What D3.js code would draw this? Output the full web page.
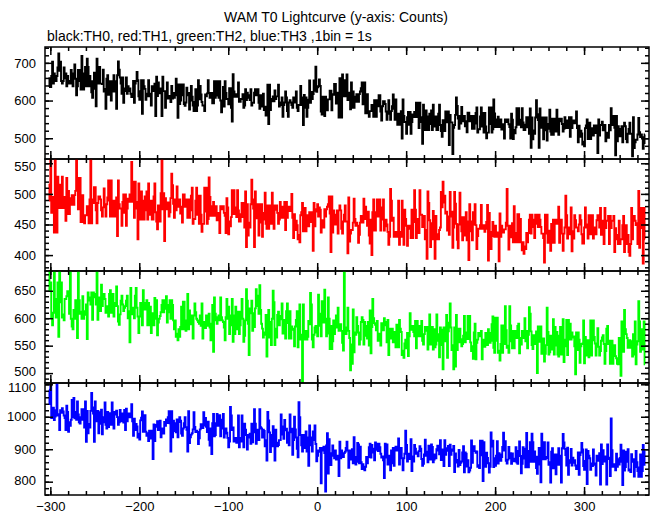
<!DOCTYPE html>
<html><head><meta charset="utf-8">
<script src="https://cdn.jsdelivr.net/npm/d3@7"></script>
<style>body{margin:0;background:#fff}svg{display:block}</style>
</head><body><svg id="c" width="652" height="515"></svg>
<script>
// ---- data ----
const timeStart = -302;   // time of first bin (s)
const binSize = 1;        // 1 bin = 1 s
const th0 = [
636,659,636,665,703,645,672,665,652,665,688,725,679,703,652,645,652,688,659,672,
638,665,652,645,645,681,645,638,672,696,658,614,638,681,681,652,629,718,672,629,
658,689,638,711,689,638,665,651,622,607,651,674,631,585,711,665,645,689,645,645,
644,682,624,631,578,658,667,615,651,638,600,651,624,667,651,624,578,667,704,682,
661,645,618,661,594,625,632,661,618,638,625,632,618,609,609,652,594,645,652,676,
654,611,602,625,654,565,654,638,631,602,618,611,654,611,618,587,638,638,625,645,
559,663,612,648,619,619,632,559,663,625,625,581,625,648,605,605,612,596,639,605,
620,607,620,658,614,554,643,591,600,643,614,643,591,586,595,634,614,620,576,600,
639,610,587,572,596,630,572,587,654,603,639,616,596,587,587,572,616,611,619,654,
620,607,607,620,593,593,651,607,636,651,613,607,651,600,569,600,636,584,651,620,
604,604,590,633,633,581,544,670,624,610,617,617,610,648,597,597,604,604,617,581,
587,630,601,621,607,614,601,630,587,594,594,621,630,614,621,630,594,578,614,607,
584,618,575,584,560,575,642,538,642,575,598,604,611,598,627,604,611,611,642,584,
588,595,608,557,588,595,624,608,572,557,595,601,595,588,581,608,608,595,624,581,
572,588,588,639,588,608,535,615,581,608,557,581,602,653,594,623,604,617,653,626,
690,623,635,638,656,639,571,563,610,610,559,610,590,574,603,603,626,626,574,617,
615,644,644,592,621,601,555,659,601,555,669,638,611,654,611,669,601,621,615,577,
648,581,624,581,610,597,617,604,597,617,624,633,648,590,610,648,566,597,617,566,
557,572,572,588,588,557,601,588,557,601,585,614,614,571,547,585,598,598,591,571,
549,565,601,572,549,572,585,616,578,549,603,559,536,565,536,536,572,499,603,559,
543,543,512,556,570,536,570,512,543,563,556,570,556,594,556,594,527,594,556,543,
485,589,531,522,574,558,522,522,565,538,574,522,589,538,531,558,522,522,565,589,
535,519,504,548,519,519,571,548,542,571,482,562,542,542,458,528,535,562,608,586,
552,525,559,539,583,545,552,559,532,545,516,568,568,545,559,545,525,559,525,539,
567,582,515,524,524,558,582,531,567,515,567,531,500,515,515,582,538,582,515,524,
603,566,530,530,550,557,530,530,550,523,537,537,499,550,543,550,550,537,530,499,
565,549,498,522,513,529,580,536,580,536,549,529,580,542,522,522,536,556,529,556,
512,579,475,555,497,521,512,555,601,564,548,475,579,535,528,555,497,521,555,555,
494,538,525,576,518,509,552,509,552,545,518,576,525,509,552,545,552,538,518,525,
556,527,540,547,527,556,504,556,527,540,547,540,540,571,527,489,533,504,520,513,
483,491,479,527,534,550,498,507,541,498,521,527,507,534,514,527,534,461,550,507,
535,535,544,521,535,535,492,508,515,501,535,521,580,535,544,559,528,455,559,492,
532,505,525,505,532,489,532,541,532,498,489,512,525,541,512,512,452,556,474,489,
496,496,510,554,516,503,510,503,472,487,510];
const th1 = [
489,515,560,469,495,477,437,565,477,437,528,500,477,515,477,528,477,495,489,456,
526,467,505,467,493,482,498,487,482,498,505,560,526,475,493,526,454,482,498,454,
452,465,465,480,480,452,491,558,452,491,485,511,511,473,452,485,496,496,491,473,
463,478,509,483,463,483,494,522,489,463,522,483,463,489,463,463,494,431,522,483,
476,476,448,487,499,469,499,448,476,492,487,499,487,552,487,520,461,520,487,476,
426,517,466,458,504,489,458,458,496,473,504,458,517,473,466,489,458,458,496,517,
470,455,442,481,455,455,501,556,475,501,423,493,475,475,486,463,470,493,533,514,
484,461,491,473,512,479,484,491,468,479,453,499,499,479,491,479,461,491,461,473,
497,510,451,459,459,489,510,466,497,451,497,466,438,451,451,510,471,510,451,459,
527,495,464,464,480,487,464,464,480,457,469,469,436,480,475,480,480,469,464,436,
493,478,434,455,447,462,506,467,506,467,478,462,506,473,455,455,467,485,462,485,
445,504,413,483,432,453,445,483,523,491,476,413,504,465,460,483,432,453,483,483,
430,469,458,502,451,443,481,443,481,474,451,502,458,443,481,474,481,469,451,458,
487,461,472,479,461,487,441,487,461,472,479,472,472,500,461,428,467,441,456,449,
426,433,421,465,470,485,439,447,477,439,459,465,447,470,454,465,470,407,485,447,
475,471,483,463,478,474,437,452,457,445,475,463,475,479,483,496,468,405,496,437,
473,450,466,450,473,435,473,481,473,443,435,455,466,481,455,455,403,494,422,435,
441,441,453,492,459,448,453,448,420,433,453,464,459,453,492,459,479,459,448,471,
432,419,458,400,470,491,440,440,470,491,463,478,491,440,458,478,491,440,447,458,
450,438,417,430,508,489,456,461,430,430,438,430,438,489,417,438,430,489,461,417,
474,459,448,415,443,448,448,428,474,428,454,506,474,428,443,459,436,506,466,466,
446,464,464,426,441,394,504,485,457,413,452,426,472,464,394,464,434,426,426,441,
445,503,478,520,486,497,468,471,440,463,433,503,463,471,412,445,503,484,451,425,
411,450,502,462,439,424,462,439,432,470,424,455,392,483,455,439,424,470,450,483,
449,410,431,443,443,449,482,443,449,449,438,443,454,482,391,469,438,410,431,454,
442,430,448,430,430,437,390,468,430,448,437,437,442,442,453,508,448,409,437,448,
429,452,421,480,436,421,421,467,467,421,459,421,408,421,402,414,410,436,421,436,
458,466,435,466,458,446,428,466,466,451,446,466,458,446,435,435,428,388,466,435,
466,420,440,428,407,451,420,458,420,458,458,451,451,479,420,440,458,435,407,435,
445,497,465,427,445,434,439,478,406,439,427,465,457,445,445,439,450,465,457,434,
419,419,445,478,445,450,427,465,450,434,465,465,427,434,445,434,457,465,457,445,
477,433,456,444,418,477,444,456,456,464,418,464,444,456,456,464,405,444,433,426,
418,456,418,426,426,449,464,405,449,449,418,433,405,399,418,477,426,456,464,456,
449,452,418,505,412,477,444,477,386,477,426];
const th2 = [
686,651,665,601,587,610,690,635,601,610,665,566,700,629,665,601,607,596,635,635,
640,649,640,608,695,599,585,580,615,599,633,633,564,688,633,608,612,599,640,599,
606,613,625,562,647,638,632,625,647,597,647,638,644,625,690,597,625,638,613,661,
622,635,644,635,610,622,610,603,644,651,610,628,644,603,628,622,658,622,594,588,
607,632,641,625,613,619,622,632,641,600,613,556,655,613,607,619,600,641,655,619,
603,573,603,628,609,587,651,621,616,628,633,587,628,587,621,573,596,609,587,637,
599,633,569,592,599,604,611,624,633,611,617,633,640,592,611,624,633,599,633,624,
596,580,596,566,572,560,580,566,584,621,580,630,630,580,577,596,644,580,614,589,
605,593,563,605,627,611,599,596,593,590,605,586,627,563,593,586,582,605,586,599,
608,583,560,590,624,539,638,608,596,590,602,605,596,638,602,596,593,583,560,602,
635,599,621,571,587,605,635,557,605,571,621,580,587,612,571,587,612,635,599,557,
568,596,653,632,590,533,618,609,632,577,609,584,618,653,622,641,608,660,615,590,
581,565,570,574,606,530,606,615,565,593,551,599,650,629,551,581,565,606,612,587,
604,598,627,572,597,579,563,613,627,591,563,613,563,585,581,579,549,585,597,613,
547,595,625,561,570,478,625,570,561,577,561,566,595,589,646,625,561,547,570,583,
586,574,567,643,608,586,567,631,608,592,652,599,567,572,638,599,544,586,544,558,
596,571,583,605,583,619,577,583,589,577,555,541,690,577,571,583,619,577,564,505,
552,517,616,538,574,570,602,586,574,552,561,593,602,597,552,593,568,586,563,593,
550,614,536,584,635,600,591,588,578,595,559,572,566,550,591,584,578,600,593,587,
556,597,533,581,575,563,581,556,575,569,547,588,556,547,597,581,575,533,541,528,
554,561,545,573,531,567,609,579,583,586,575,567,595,545,595,567,586,579,567,595,
559,552,571,584,577,584,543,559,607,552,577,584,543,580,547,552,607,559,571,529,
583,579,551,507,583,558,564,606,528,576,592,627,583,542,551,507,583,512,606,542,
581,556,581,562,549,553,568,604,556,574,562,604,562,604,556,540,549,526,574,590,
525,555,561,573,569,567,577,525,561,558,548,573,555,551,580,573,555,559,589,603,
546,537,601,559,601,537,541,523,553,587,537,587,553,622,578,546,550,537,622,587,
558,545,577,545,564,577,564,586,590,536,564,552,577,570,564,600,558,577,545,570,
620,608,576,551,544,569,557,553,576,500,585,557,563,585,535,540,563,521,535,551,
619,575,534,538,568,543,550,598,534,584,550,575,534,530,568,584,534,543,598,520,
549,561,597,533,597,561,590,561,574,565,567,549,498,574,542,574,561,519,549,553,
554,596,518,566,532,537,560,529,554,596,532,560,596,566,554,532,550,582,548,532,
540,559,565,569,553,517,540,581,586,553,559,517,547,559,517,547,551,531,527,517,
516,564,546,495,594,558,539,615,580,571,564,546,552,560,546,558,530,571,534,594,
516,552,558,631,594,539,580,543,564,594,516];
const th3 = [
1083,1039,1095,996,1020,1028,990,1001,1020,1100,1004,1008,959,1020,1012,1026,1016,1004,996,959,
1034,1015,954,983,972,991,1052,999,1058,995,1015,991,1047,1007,983,979,999,1023,991,1023,
967,1047,923,1018,949,978,967,1018,1073,1029,1010,923,1047,994,986,1018,949,978,1014,1022,
946,999,983,1044,975,964,1015,968,1011,1007,975,1044,983,964,1015,1007,1019,999,975,983,
1021,986,1002,1010,982,1021,959,1025,986,1002,1010,998,1006,1039,986,941,994,959,978,970,
936,948,930,989,997,1016,954,965,1005,954,941,949,925,957,933,949,957,870,976,925,
975,969,986,959,979,988,937,956,964,948,984,972,992,981,999,1017,980,893,1017,937,
988,956,980,952,992,937,984,999,988,948,941,964,980,999,968,960,893,1017,919,937,
945,949,961,1014,969,953,957,953,916,934,961,977,969,965,1014,973,996,969,953,985,
929,911,964,885,980,1009,940,944,980,1009,972,991,1005,940,964,991,1009,936,948,964,
951,935,906,924,1030,1004,959,967,924,928,935,920,935,1004,906,935,924,1004,967,906,
979,960,944,899,936,944,948,917,979,921,952,1023,979,917,936,960,928,1023,968,964,
936,960,956,909,928,865,1015,989,952,891,944,909,971,960,865,960,920,909,913,928,
928,1007,945,970,932,990,958,963,920,952,912,1007,952,963,883,928,1000,961,936,901,
875,1045,999,944,912,893,944,912,904,955,893,936,849,973,936,912,893,955,928,973,
916,863,880,896,892,904,795,896,904,908,888,770,912,949,825,931,888,851,880,912,
888,872,896,868,877,880,817,923,872,896,884,876,888,892,904,923,896,843,880,896,
868,900,857,937,876,853,861,919,915,857,908,860,839,854,842,835,846,876,857,876,
906,917,874,913,902,890,866,921,917,898,894,917,906,886,874,878,866,811,917,874,
915,853,880,864,835,896,857,904,849,904,908,896,900,933,853,880,904,872,835,872,
886,957,913,862,886,870,878,931,833,878,862,913,902,886,890,878,894,909,902,870,
849,855,884,929,880,892,860,911,892,868,915,907,860,868,884,872,900,911,896,884,
928,867,899,883,848,928,883,903,895,910,848,914,883,899,895,910,830,887,867,859,
847,898,851,858,862,890,909,829,890,886,847,866,829,834,843,927,858,898,909,894,
889,893,846,851,842,926,881,926,802,922,857,846,889,873,857,828,846,952,908,926,
845,872,849,880,925,856,888,884,864,876,907,951,896,925,864,856,868,907,872,888,
855,887,871,863,867,906,859,855,895,924,879,826,855,906,902,871,844,950,895,844,
885,922,861,948,922,861,893,877,842,824,877,904,853,798,948,893,869,922,869,873,
876,921,852,860,797,892,903,841,884,868,823,884,852,903,880,852,797,903,947,921,
901,882,850,905,821,858,866,901,850,874,858,866,850,839,843,890,821,882,890,919,
899,848,837,864,899,793,895,880,872,837,856,848,899,852,856,819,880,876,864,888,
791,915,854,897,862,866,878,791,915,870,874,817,995,897,846,850,854,835,886,846,
869,853,873,914,861,790,896,834,845,892,861,900,834,838,830,885,861,869,816,845,
895,860,833,815,844,884,815,833,913,852,895];

const seriesNames = ["TH0","TH1","TH2","TH3"];
const seriesColors = ["#000000","#ff0000","#00ff00","#0000ff"];
const seriesData = [th0, th1, th2, th3];
const xDomain = [-306, 373];
const xMajorTicks = [-300,-200,-100,0,100,200,300];
const yDomains = [[445,742],[374,557],[482,686],[759,1104]];
const yMajorTicks = [[500,600,700],[400,450,500,550],[500,550,600,650],[800,900,1000,1100]];
const yMinorSteps = [20,10,10,20];
const xMinorStep = 20;
const titleText = "WAM T0 Lightcurve (y-axis: Counts)";
const subtitleText = "black:TH0, red:TH1, green:TH2, blue:TH3 ,1bin = 1s";

// ---- layout ----
const svg = d3.select("#c");
const X0 = 45, X1 = 649;
const panelTop = 47, panelH = 112;
const FONT = "'Liberation Sans', Arial, Helvetica, sans-serif";
const x = d3.scaleLinear().domain(xDomain).range([X0, X1]);
const xMinor = d3.range(Math.ceil(xDomain[0]/xMinorStep)*xMinorStep, xDomain[1], xMinorStep);

svg.append("text").attr("x", 336).attr("y", 22).attr("text-anchor","middle")
  .attr("font-family", FONT).attr("font-size", 14).text(titleText);
svg.append("text").attr("x", 47).attr("y", 41)
  .attr("font-family", FONT).attr("font-size", 14).text(subtitleText);

const defs = svg.append("defs");

seriesData.forEach((vals, k) => {
  const top = panelTop + k*panelH, bot = top + panelH;
  const y = d3.scaleLinear().domain(yDomains[k]).range([bot, top]);
  const g = svg.append("g");
  defs.append("clipPath").attr("id","clip"+k)
    .append("rect").attr("x",X0).attr("y",top).attr("width",X1-X0).attr("height",panelH);

  const pts = vals.map((v,i) => [timeStart + i*binSize + binSize/2, v]);
  const line = d3.line().x(d => x(d[0])).y(d => y(d[1])).curve(d3.curveStep);
  g.append("path").datum(pts).attr("clip-path","url(#clip"+k+")")
    .attr("fill","none").attr("stroke", seriesColors[k]).attr("stroke-width",1.9)
    .attr("stroke-linejoin","miter").attr("d", line);

  const st = yMinorSteps[k];
  const yMinor = d3.range(Math.ceil(yDomains[k][0]/st)*st, yDomains[k][1], st);

  const styleAxis = sel => {
    sel.select(".domain").remove();
    sel.selectAll("line").attr("stroke","#000").attr("stroke-width",1.5);
    sel.selectAll("text").attr("font-family",FONT).attr("font-size",13).attr("fill","#000");
  };
  g.append("g").attr("transform",`translate(${X0},0)`)
    .call(d3.axisLeft(y).tickValues(yMinor).tickSize(-4).tickFormat("")).call(styleAxis);
  const yl = g.append("g").attr("transform",`translate(${X0},0)`)
    .call(d3.axisLeft(y).tickValues(yMajorTicks[k]).tickSize(-8).tickPadding(9).tickFormat(d3.format("d"))).call(styleAxis);
  // keep labels close to a panel edge inside the panel's band
  yl.selectAll(".tick text").attr("dy", d => {
    const py = y(d);
    if (py - top < 6) return "0.55em";
    if (bot - py < 14) return "0.2em";
    return "0.32em";
  });
  g.append("g").attr("transform",`translate(${X1},0)`)
    .call(d3.axisRight(y).tickValues(yMinor).tickSize(-4).tickFormat("")).call(styleAxis);
  g.append("g").attr("transform",`translate(${X1},0)`)
    .call(d3.axisRight(y).tickValues(yMajorTicks[k]).tickSize(-8).tickFormat("")).call(styleAxis);
  g.append("g").attr("transform",`translate(0,${top})`)
    .call(d3.axisTop(x).tickValues(xMinor).tickSize(-4).tickFormat("")).call(styleAxis);
  g.append("g").attr("transform",`translate(0,${top})`)
    .call(d3.axisTop(x).tickValues(xMajorTicks).tickSize(-8).tickFormat("")).call(styleAxis);
  g.append("g").attr("transform",`translate(0,${bot})`)
    .call(d3.axisBottom(x).tickValues(xMinor).tickSize(-4).tickFormat("")).call(styleAxis);
  g.append("g").attr("transform",`translate(0,${bot})`)
    .call(d3.axisBottom(x).tickValues(xMajorTicks).tickSize(-8).tickPadding(7)
      .tickFormat(k === seriesData.length-1 ? d3.format("d") : "")).call(styleAxis);

  g.append("rect").attr("x",X0).attr("y",top).attr("width",X1-X0).attr("height",panelH)
    .attr("fill","none").attr("stroke","#000").attr("stroke-width",1.5);
});
</script></body></html>
